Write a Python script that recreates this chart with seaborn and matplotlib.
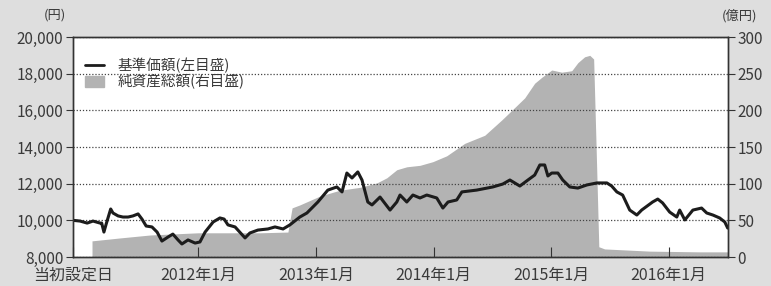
import matplotlib
matplotlib.use('Agg')
import matplotlib.pyplot as plt
from matplotlib.lines import Line2D
from matplotlib.patches import Patch
import pandas as pd
import seaborn as sns

# 基準価額 (円, left axis)
nav_dates = [
    "2010-12-09", "2010-12-31", "2011-01-22", "2011-02-09", "2011-03-03", "2011-03-08",
    "2011-03-15", "2011-03-22", "2011-04-05", "2011-04-12", "2011-04-28", "2011-05-13",
    "2011-05-29", "2011-06-13", "2011-06-29", "2011-07-11", "2011-07-24", "2011-08-11",
    "2011-08-27", "2011-09-11", "2011-09-30", "2011-10-15", "2011-10-31", "2011-11-12",
    "2011-12-01", "2011-12-23", "2012-01-07", "2012-01-23", "2012-02-17", "2012-03-09",
    "2012-03-22", "2012-04-03", "2012-04-25", "2012-05-26", "2012-06-10", "2012-07-05",
    "2012-08-05", "2012-08-27", "2012-09-21", "2012-10-12", "2012-11-12", "2012-12-04",
    "2013-01-07", "2013-02-07", "2013-03-07", "2013-03-23", "2013-04-07", "2013-04-23",
    "2013-05-11", "2013-05-24", "2013-06-11", "2013-06-24", "2013-07-19", "2013-08-19",
    "2013-09-09", "2013-09-19", "2013-10-10", "2013-10-29", "2013-11-20", "2013-12-11",
    "2014-01-11", "2014-01-30", "2014-02-15", "2014-03-14", "2014-03-30", "2014-05-15",
    "2014-07-04", "2014-08-04", "2014-08-26", "2014-09-26", "2014-10-21", "2014-11-11",
    "2014-11-27", "2014-12-12", "2014-12-22", "2015-01-03", "2015-01-22", "2015-02-06",
    "2015-02-28", "2015-03-25", "2015-04-22", "2015-05-23", "2015-06-23", "2015-07-08",
    "2015-07-24", "2015-08-11", "2015-09-02", "2015-09-24", "2015-10-09", "2015-11-12",
    "2015-11-28", "2015-12-13", "2016-01-04", "2016-01-26", "2016-02-04", "2016-02-20",
    "2016-03-16", "2016-04-12", "2016-04-28", "2016-05-17", "2016-06-07", "2016-06-23",
    "2016-07-02",
]
nav_values = [
    10000, 9960, 9850, 9960, 9850, 9850,
    9360, 9800, 10620, 10400, 10240, 10180,
    10180, 10240, 10350, 10070, 9690, 9640,
    9360, 8870, 9090, 9250, 8930, 8710,
    8930, 8760, 8820, 9360, 9910, 10130,
    10070, 9750, 9640, 9040, 9310, 9470,
    9530, 9640, 9530, 9750, 10180, 10400,
    11000, 11650, 11820, 11550, 12580, 12310,
    12640, 12200, 11000, 10840, 11270, 10560,
    11000, 11380, 11000, 11380, 11220, 11380,
    11220, 10670, 11000, 11110, 11550, 11650,
    11820, 11980, 12200, 11870, 12200, 12470,
    13020, 13020, 12420, 12580, 12580, 12200,
    11820, 11760, 11930, 12040, 12040, 11870,
    11550, 11380, 10560, 10290, 10560, 11000,
    11160, 10950, 10450, 10180, 10560, 10020,
    10560, 10670, 10400, 10290, 10130, 9910,
    9580,
]

# 純資産総額 (億円, right axis)
asset_dates = [
    "2011-02-06", "2011-05-04", "2011-08-05", "2012-01-01", "2012-07-11", "2012-10-06",
    "2012-10-19", "2012-11-12", "2013-01-13", "2013-03-16", "2013-05-18", "2013-07-09",
    "2013-08-09", "2013-09-09", "2013-10-10", "2013-11-20", "2013-12-30", "2014-02-11",
    "2014-04-08", "2014-06-09", "2014-08-01", "2014-09-01", "2014-10-11", "2014-11-11",
    "2014-12-03", "2015-01-03", "2015-02-03", "2015-03-06", "2015-03-25", "2015-04-15",
    "2015-05-01", "2015-05-13", "2015-05-20", "2015-05-29", "2015-06-16", "2015-11-03",
    "2016-04-06", "2016-07-02",
]
asset_values = [
    22, 26, 30, 33, 33, 34,
    67, 71, 83, 91, 95, 101,
    108, 119, 123, 125, 130, 138,
    155, 166, 187, 200, 217, 237,
    245, 255, 252, 254, 265, 273,
    275, 270, 160, 14, 11, 8,
    7, 7,
]

xtick_dates = ["2010-12-09", "2012-01-01", "2013-01-01", "2014-01-01", "2015-01-01", "2016-01-01"]
xtick_labels = ["当初設定日", "2012年1月", "2013年1月", "2014年1月", "2015年1月", "2016年1月"]
left_ticks = [8000, 10000, 12000, 14000, 16000, 18000, 20000]
right_ticks = [0, 50, 100, 150, 200, 250, 300]

BG = "#dedede"
AREA = "#b3b3b3"
TXT = "#3a3a3a"

nav = pd.DataFrame({"date": pd.to_datetime(nav_dates), "value": nav_values})
assets = pd.DataFrame({"date": pd.to_datetime(asset_dates), "value": asset_values})

sns.set_style("ticks")
plt.rcParams['font.family'] = ['Noto Sans CJK JP', 'DejaVu Sans']

fig = plt.figure(figsize=(7.71, 2.86), dpi=100, facecolor=BG)
ax = fig.add_axes([73 / 771, 1 - 257 / 286, 655 / 771, 220 / 286])
ax2 = ax.twinx()

# area on the twin axis, NAV line on top
ax2.fill_between(assets["date"], assets["value"], color=AREA, lw=0)
sns.lineplot(data=nav, x="date", y="value", ax=ax, color="#1c1c1c", lw=2.2)

ax.set_zorder(ax2.get_zorder() + 1)
ax.patch.set_visible(False)
ax2.patch.set_visible(True)
ax2.patch.set_facecolor("white")

ax.set_xlim(pd.Timestamp("2010-12-09"), pd.Timestamp("2016-07-03"))
ax.set_ylim(8000, 20000)
ax2.set_ylim(0, 300)

ax.set_xticks(pd.to_datetime(xtick_dates))
ax.set_xticklabels(xtick_labels)
ax.set_yticks(left_ticks)
ax.set_yticklabels([f"{v:,}" for v in left_ticks])
ax2.set_yticks(right_ticks)
ax2.set_yticklabels([str(v) for v in right_ticks])
ax.set_xlabel("")
ax.set_ylabel("")

ax.grid(True, axis="y", linestyle=(0, (1, 1.5)), color="#444444", lw=0.9)

for a in (ax, ax2):
    for s in a.spines.values():
        s.set_visible(True)
        s.set_color("#333333")
        s.set_linewidth(1)

ax.tick_params(axis="x", direction="in", length=7, pad=7, labelsize=11.5,
               colors="#333333", labelcolor=TXT)
ax.tick_params(axis="y", direction="out", length=5, pad=2, labelsize=11,
               colors="#333333", labelcolor=TXT)
ax2.tick_params(axis="y", direction="out", length=5, pad=2, labelsize=11,
                colors="#333333", labelcolor=TXT)

handles = [Line2D([0], [0], color="#1c1c1c", lw=2), Patch(color=AREA)]
ax.legend(handles, ["基準価額(左目盛)", "純資産総額(右目盛)"], loc="upper left",
          bbox_to_anchor=(0.01, 0.93), frameon=False, fontsize=10.5,
          handlelength=1.3, handleheight=0.8, handletextpad=0.9,
          labelspacing=0.05, borderaxespad=0, labelcolor=TXT)

fig.text(66 / 771, 1 - 15 / 286, "(円)", ha="right", va="center", fontsize=9.5, color=TXT)
fig.text(722 / 771, 1 - 16 / 286, "(億円)", ha="left", va="center", fontsize=9.5, color=TXT)

plt.savefig("out.png", dpi=100, facecolor=BG)
